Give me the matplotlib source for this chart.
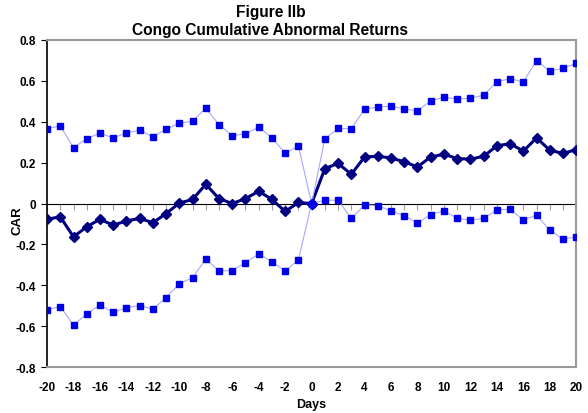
import matplotlib
matplotlib.use('Agg')
import matplotlib.pyplot as plt

plt.rcParams['font.family'] = ['Liberation Sans', 'DejaVu Sans']

days = list(range(-20, 21))

# cumulative abnormal returns
car = [-0.077, -0.065, -0.163, -0.114, -0.077, -0.106, -0.085, -0.073, -0.094, -0.049,
       0.002, 0.020, 0.094, 0.024, 0.000, 0.024, 0.060, 0.020, -0.039, 0.005,
       0.000,
       0.171, 0.196, 0.143, 0.228, 0.231, 0.223, 0.204, 0.179, 0.228, 0.241,
       0.220, 0.217, 0.231, 0.282, 0.293, 0.256, 0.321, 0.261, 0.245, 0.264]

upper = [0.366, 0.380, 0.273, 0.317, 0.345, 0.320, 0.346, 0.358, 0.327, 0.364,
         0.393, 0.403, 0.467, 0.385, 0.332, 0.341, 0.374, 0.322, 0.246, 0.281,
         0.000,
         0.317, 0.367, 0.366, 0.462, 0.472, 0.476, 0.462, 0.454, 0.502, 0.520,
         0.511, 0.515, 0.530, 0.595, 0.611, 0.595, 0.699, 0.647, 0.662, 0.685]

lower = [-0.520, -0.504, -0.595, -0.540, -0.496, -0.533, -0.509, -0.499, -0.517, -0.460,
         -0.392, -0.363, -0.272, -0.330, -0.328, -0.289, -0.246, -0.285, -0.330, -0.275,
         0.000,
         0.016, 0.016, -0.073, -0.007, -0.010, -0.036, -0.060, -0.096, -0.054, -0.036,
         -0.072, -0.081, -0.073, -0.031, -0.028, -0.080, -0.057, -0.130, -0.174, -0.163]

x_ticks = list(range(-20, 21, 2))
y_ticks = [-0.8, -0.6, -0.4, -0.2, 0, 0.2, 0.4, 0.6, 0.8]
y_labels = ['-0.8', '-0.6', '-0.4', '-0.2', '0', '0.2', '0.4', '0.6', '0.8']

fig = plt.figure(figsize=(5.88, 4.14), dpi=100)
ax = fig.add_axes([0.080, 0.111, 0.900, 0.790])

ax.plot(days, car, color='#000080', lw=2.2, marker='D', ms=5.4, zorder=3)
for band in (upper, lower):
    ax.plot(days, band, color='#A8A8FF', lw=0.8, marker='s', ms=4.6,
            markerfacecolor='#0000E6', markeredgecolor='#0000E6', zorder=4)
# event day marker shows in the band colour
ax.plot(days[20], car[20], marker='D', ms=5.4, color='#0000E6', zorder=5)

ax.set_xlim(-20, 20)
ax.set_ylim(-0.8, 0.8)
ax.set_xticks(x_ticks)
ax.set_xticklabels([str(t) for t in x_ticks])
ax.set_yticks(y_ticks)
ax.set_yticklabels(y_labels)
ax.tick_params(axis='x', length=0, pad=10, labelsize=8.5)
ax.tick_params(axis='y', length=4, direction='out', labelsize=8.5, color='black', pad=4)
for lab in ax.get_xticklabels() + ax.get_yticklabels():
    lab.set_fontweight('bold')

for side in ('top', 'right', 'bottom'):
    ax.spines[side].set_color('#9a9a9a')
    ax.spines[side].set_linewidth(1.5)
ax.spines['left'].set_color('black')
ax.spines['left'].set_linewidth(1.2)

# zero axis with day ticks
zero_ax = ax.secondary_xaxis(0.5)
zero_ax.set_xticks(days)
zero_ax.tick_params(axis='x', direction='in', length=4, color='#a0a0a0', labelbottom=False, labeltop=False)
zero_ax.spines['bottom'].set_color('black')
zero_ax.spines['bottom'].set_linewidth(1.2)

ax.set_xlabel('Days', fontsize=9, fontweight='bold', labelpad=4)
ax.set_ylabel('CAR', fontsize=9.5, fontweight='bold')
ax.yaxis.set_label_coords(-0.045, 0.45)
title = ax.set_title('Figure IIb\nCongo Cumulative Abnormal Returns', fontsize=11.2,
                     fontweight='bold', pad=4, linespacing=1.3)
title.set_x(0.422)

fig.savefig('out.png', dpi=100)
